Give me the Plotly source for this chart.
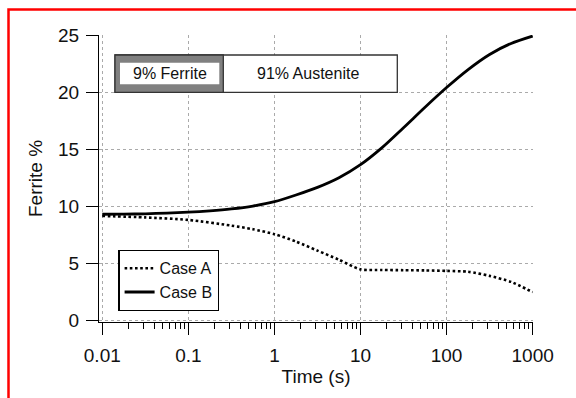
import plotly.graph_objects as go

# ---- data ----
time_a = [0.01, 0.0316, 0.1, 0.316, 0.562, 1, 1.78, 3.16, 5.62, 10, 17.8, 31.6, 56.2, 100, 178, 316, 562, 1000]
case_a = [9.15, 9.02, 8.8, 8.3, 7.98, 7.55, 6.9, 6.1, 5.3, 4.45, 4.40, 4.38, 4.36, 4.32, 4.24, 3.88, 3.35, 2.45]

time_b = [0.01, 0.0178, 0.0316, 0.0562, 0.1, 0.178, 0.316, 0.562, 1, 1.78, 3.16, 5.62, 10,
          17.8, 31.6, 56.2, 100, 178, 316, 562, 1000]
case_b = [9.30, 9.31, 9.34, 9.40, 9.48, 9.60, 9.77, 10.02, 10.40, 10.99, 11.66, 12.51, 13.66,
          15.16, 16.91, 18.71, 20.44, 22.02, 23.35, 24.32, 24.97]

x_tickvals = [0.01, 0.1, 1, 10, 100, 1000]
x_ticktext = ["0.01", "0.1", "1", "10", "100", "1000"]
y_tickvals = [0, 5, 10, 15, 20, 25]

series_names = ["Case A", "Case B"]
phase_labels = ["9% Ferrite", "91% Austenite"]

# minor tick positions (2..9 within each decade)
x_minor = [m * d for d in [0.01, 0.1, 1, 10, 100] for m in range(2, 10)]

# ---- layout geometry ----
W, H = 576, 398
ML, MR, MT, MB = 99, 43, 35, 76
PW, PH = W - ML - MR, H - MT - MB
FONT = "Liberation Sans, Arial, Helvetica, sans-serif"
XRANGE = [-2.038, 3.004]
YRANGE = [-0.176, 25.06]


def px(x):
    return (x - ML) / PW


def py(y):
    return (H - MB - y) / PH


fig = go.Figure()
# invisible carrier so the minor-tick overlay axis is drawn
fig.add_trace(go.Scatter(
    x=time_b, y=case_b, xaxis="x2", yaxis="y", mode="lines",
    line=dict(width=0, color="rgba(0,0,0,0)"), showlegend=False, hoverinfo="skip",
))
fig.add_trace(go.Scatter(
    x=time_a, y=case_a, name=series_names[0], mode="lines",
    line=dict(color="black", width=2.6, dash="2.6px,2.6px", shape="spline", smoothing=0.7),
))
fig.add_trace(go.Scatter(
    x=time_b, y=case_b, name=series_names[1], mode="lines",
    line=dict(color="black", width=2.8, shape="spline", smoothing=0.8),
))

shapes = [
    # outer red frame
    dict(type="rect", xref="paper", yref="paper", x0=px(8.5), y0=py(9.5), x1=px(640), y1=py(460),
         line=dict(color="#ff0000", width=2.5), fillcolor="rgba(0,0,0,0)", layer="above"),
    # phase box: white right part
    dict(type="rect", xref="paper", yref="paper", x0=px(115), y0=py(92.3), x1=px(397.3), y1=py(55),
         line=dict(color="#333333", width=1.3), fillcolor="white", layer="above"),
    # gray ferrite part
    dict(type="rect", xref="paper", yref="paper", x0=px(115), y0=py(92.3), x1=px(223.3), y1=py(55),
         line=dict(color="#333333", width=1.3), fillcolor="#808080", layer="above"),
    # inner white label box
    dict(type="rect", xref="paper", yref="paper", x0=px(120), y0=py(84.3), x1=px(219.3), y1=py(62.7),
         line=dict(width=0), fillcolor="white", layer="above"),
]

annotations = [
    dict(xref="paper", yref="paper", x=px(169.6), y=py(73.5), text=phase_labels[0], showarrow=False,
         font=dict(family=FONT, size=16, color="#111"), xanchor="center", yanchor="middle"),
    dict(xref="paper", yref="paper", x=px(308), y=py(73.5), text=phase_labels[1], showarrow=False,
         font=dict(family=FONT, size=16, color="#111"), xanchor="center", yanchor="middle"),
]

fig.update_layout(
    width=W, height=H,
    margin=dict(l=ML, r=MR, t=MT, b=MB, pad=0),
    paper_bgcolor="white", plot_bgcolor="white",
    font=dict(family=FONT, size=19, color="#111"),
    shapes=shapes, annotations=annotations,
    showlegend=True,
    legend=dict(
        x=px(118.3), y=py(250), xanchor="left", yanchor="top",
        bgcolor="white", bordercolor="black", borderwidth=1.3,
        font=dict(family=FONT, size=16, color="#111"),
        tracegroupgap=0, itemwidth=30,
    ),
    xaxis=dict(
        type="log", range=XRANGE,
        tickmode="array", tickvals=x_tickvals, ticktext=x_ticktext,
        ticks="outside", ticklen=12, tickwidth=1.3, tickcolor="black",
        showline=True, linecolor="black", linewidth=1.3, mirror=False,
        showgrid=True, gridcolor="#aaaaaa", griddash="dot", gridwidth=1,
        zeroline=False, automargin=False,
        tickfont=dict(size=19), ticklabelstandoff=4,
        title=dict(text="Time (s)", font=dict(size=19), standoff=4),
    ),
    xaxis2=dict(
        type="log", range=XRANGE, overlaying="x", anchor="y", side="bottom",
        tickmode="array", tickvals=x_minor, showticklabels=False,
        ticks="outside", ticklen=6, tickwidth=1.3, tickcolor="black",
        showgrid=False, showline=False, zeroline=False, automargin=False,
    ),
    yaxis=dict(
        range=YRANGE,
        tickmode="array", tickvals=y_tickvals,
        ticks="outside", ticklen=12, tickwidth=1.3, tickcolor="black",
        showline=True, linecolor="black", linewidth=1.3, mirror=False,
        showgrid=True, gridcolor="#aaaaaa", griddash="dot", gridwidth=1,
        zeroline=False, automargin=False,
        tickfont=dict(size=19), ticklabelstandoff=3,
        title=dict(text="Ferrite %", font=dict(size=19), standoff=10),
    ),
)

fig.write_html("out.html")
